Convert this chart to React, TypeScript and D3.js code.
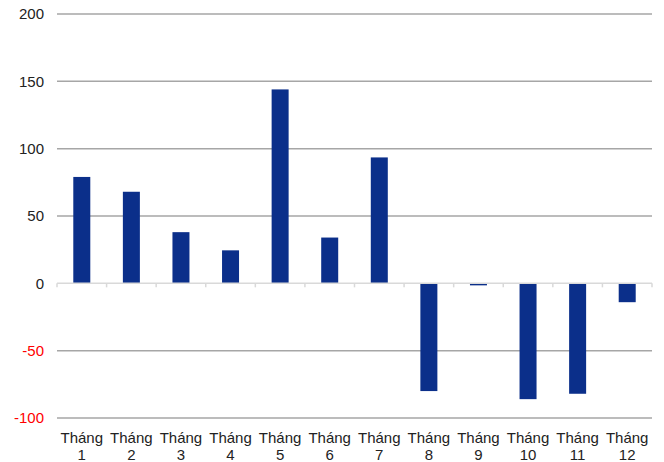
import React from "react";
import * as d3 from "d3";

const categories = ["1","2","3","4","5","6","7","8","9","10","11","12"];
const values = [79, 68, 38, 24.5, 144, 34, 93.5, -80, -1.5, -86, -82, -14];
const yTicks = [-100, -50, 0, 50, 100, 150, 200];

const W = 664, H = 462;
const left = 57, right = 652, top = 14, bottom = 418;

export default function App() {
  const x = d3.scaleBand<string>().domain(categories).range([left, right]);
  const y = d3.scaleLinear().domain([-100, 200]).range([bottom, top]);
  const barW = 17;
  const font = "'Liberation Sans', Arial, sans-serif";
  return (
    <svg width={W} height={H} style={{ position: "absolute", left: 0, top: 0 }}>
      <rect width={W} height={H} fill="#fff" />
      {yTicks.map((t) => (
        <g key={t}>
          {t !== 0 && (
            <line x1={left} x2={right} y1={y(t)} y2={y(t)} stroke="#a6a6a6" strokeWidth={1.5} />
          )}
          <text x={44} y={y(t)} dy="0.36em" textAnchor="end" fontFamily={font} fontSize={15}
            fill={t < 0 ? "#ff0000" : "#222"}>{t}</text>
        </g>
      ))}
      {categories.map((c, i) => (
        <rect key={c} x={x(c)! + x.bandwidth() / 2 - barW / 2}
          y={y(Math.max(0, values[i]))} width={barW}
          height={Math.abs(y(values[i]) - y(0))} fill="#0b2f8a" />
      ))}
      <line x1={left} x2={right} y1={y(0)} y2={y(0)} stroke="#d9d9d9" strokeWidth={1.5} />
      {[...categories.map((c) => x(c)!), right].map((px, i) => (
        <line key={i} x1={px} x2={px} y1={y(0)} y2={y(0) + 4} stroke="#d9d9d9" strokeWidth={1.5} />
      ))}
      {categories.map((c) => (
        <text key={c} x={x(c)! + x.bandwidth() / 2} textAnchor="middle" fontFamily={font} fontSize={15} fill="#222">
          <tspan x={x(c)! + x.bandwidth() / 2} y={443}>Tháng</tspan>
          <tspan x={x(c)! + x.bandwidth() / 2} y={460}>{c}</tspan>
        </text>
      ))}
    </svg>
  );
}
